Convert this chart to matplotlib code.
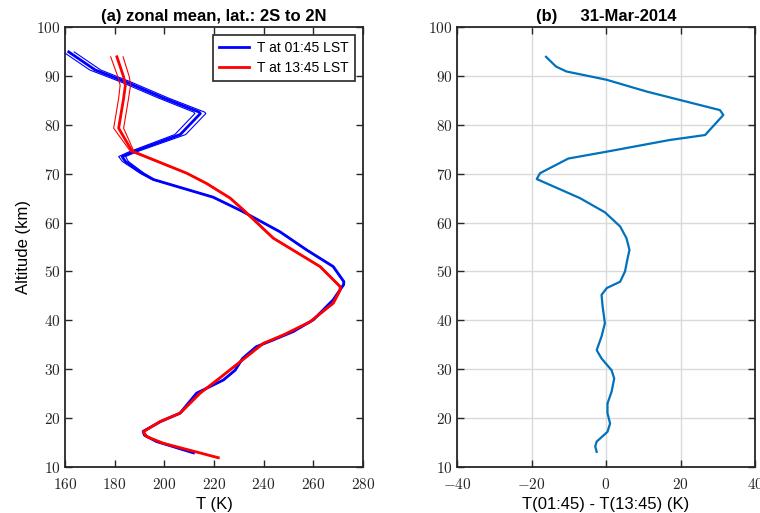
import matplotlib
matplotlib.use("Agg")
import matplotlib.pyplot as plt
import numpy as np
from matplotlib.ticker import FuncFormatter, MultipleLocator

plt.rcParams['font.family'] = ['Liberation Sans', 'DejaVu Sans']
plt.rcParams['mathtext.fontset'] = 'cm'

# ---- data: night (01:45 LST) profile ----
alt_night = [94.9, 91.2, 88.8, 85.5, 82.6, 82.3, 78.0, 74.4, 73.5, 72.5, 70.1, 68.8,
             65.2, 62.4, 58.1, 54.4, 51.0, 47.9, 47.3, 44.2, 40.1, 37.7, 36.0, 34.6,
             32.2, 29.8, 27.8, 25.1, 21.0, 19.3, 17.3, 16.5, 15.2, 12.9]
T_night = [161.5, 172.2, 184.3, 199.5, 214.0, 214.5, 206.4, 187.0, 183.0, 184.3, 191.0, 195.6,
           219.6, 231.0, 246.6, 257.3, 268.0, 272.3, 272.2, 268.0, 260.0, 251.9, 243.9, 237.0,
           231.5, 228.5, 223.8, 213.0, 206.3, 198.5, 191.5, 192.0, 196.9, 211.7]
err_night = [2.2, 2.2, 2.0, 2.0, 2.2, 2.2, 2.2, 1.5, 1.4, 1.2, 0.8, 0.5,
             0.3, 0.2, 0.2, 0.2, 0.2, 0.2, 0.2, 0.2, 0.2, 0.2, 0.2, 0.2,
             0.2, 0.2, 0.2, 0.2, 0.2, 0.2, 0.3, 0.3, 0.4, 0.5]

# ---- data: day (13:45 LST) profile ----
alt_day = [93.9, 89.8, 88.1, 85.4, 79.3, 74.6, 70.1, 68.0, 65.0, 62.6, 56.8, 51.0,
           46.9, 46.2, 43.5, 39.7, 37.0, 35.3, 31.5, 28.0, 25.1, 21.0, 19.3, 17.2,
           16.2, 14.85, 11.9]
T_day = [180.9, 183.6, 184.3, 183.6, 181.6, 187.0, 209.0, 217.0, 226.5, 231.8, 243.9, 262.7,
         270.8, 270.8, 268.0, 258.7, 247.9, 239.9, 230.5, 221.8, 214.4, 206.3, 198.3, 191.5,
         192.9, 199.6, 221.7]
err_day = [2.5, 2.3, 2.1, 2.0, 2.0, 0.7, 0.3, 0.3, 0.3, 0.3, 0.3, 0.3,
           0.3, 0.3, 0.3, 0.3, 0.3, 0.3, 0.3, 0.3, 0.3, 0.3, 0.3, 0.3,
           0.3, 0.3, 0.3]

# ---- data: difference night - day ----
alt_diff = [93.9, 91.9, 90.9, 89.2, 86.8, 83.0, 82.0, 77.9, 76.9, 74.5, 73.1, 70.1, 68.9,
            65.0, 62.1, 59.2, 56.8, 54.4, 52.3, 50.0, 47.9, 46.6, 45.2, 42.8, 39.4,
            36.7, 33.9, 32.2, 29.8, 28.1, 25.4, 23.0, 21.0, 18.9, 17.2, 15.2, 14.2, 13.1]
T_diff = [-16.1, -13.4, -10.6, 0.2, 10.9, 30.6, 31.5, 26.6, 17.2, 0.2, -10.1, -17.7, -18.6,
          -7.0, -0.3, 3.8, 5.5, 6.3, 5.7, 5.1, 3.8, 0.2, -1.2, -0.9, -0.3,
          -1.2, -2.5, -1.2, 1.5, 2.2, 1.5, 0.4, 0.4, 1.1, 0.4, -2.5, -2.9, -2.5]

fig = plt.figure(figsize=(7.6, 5.13), dpi=100)
ax1 = fig.add_axes([65/760, 46/513, 298/760, 440/513])
ax2 = fig.add_axes([457/760, 46/513, 298/760, 440/513])

fmt = FuncFormatter(lambda v, p: r'$%d$' % round(v) if v >= 0 else r'$-%d$' % round(-v))

# left panel
Tn = np.array(T_night); en = np.array(err_night)
Td = np.array(T_day); ed = np.array(err_day)
ax1.plot(Tn, alt_night, color='#0000ff', lw=2.0, label='T at 01:45 LST', zorder=3)
ax1.plot(Tn - en, alt_night, color='#0000ff', lw=0.8, zorder=3)
ax1.plot(Tn + en, alt_night, color='#0000ff', lw=0.8, zorder=3)
ax1.plot(Td, alt_day, color='#ff0000', lw=2.0, label='T at 13:45 LST', zorder=4)
ax1.plot(Td - ed, alt_day, color='#ff0000', lw=0.8, zorder=4)
ax1.plot(Td + ed, alt_day, color='#ff0000', lw=0.8, zorder=4)
ax1.set_xlim(160, 280)
ax1.set_ylim(10, 100)
ax1.xaxis.set_major_locator(MultipleLocator(20))
ax1.yaxis.set_major_locator(MultipleLocator(10))
ax1.set_xlabel('T (K)', fontsize=12, labelpad=4)
ax1.set_ylabel('Altitude (km)', fontsize=12, labelpad=4)
ax1.set_title('(a) zonal mean, lat.: 2S to 2N', fontsize=12, fontweight='bold', pad=4)
leg = ax1.legend(loc='upper right', fontsize=10, frameon=True, fancybox=False,
                 edgecolor='#262626', framealpha=1, handlelength=2.2,
                 borderaxespad=0.6, borderpad=0.4, labelspacing=0.45, handletextpad=0.6)
leg.get_frame().set_linewidth(1.2)

# right panel
ax2.plot(T_diff, alt_diff, color='#0072BD', lw=1.6, zorder=3)
ax2.set_xlim(-40, 40)
ax2.set_ylim(10, 100)
ax2.xaxis.set_major_locator(MultipleLocator(20))
ax2.yaxis.set_major_locator(MultipleLocator(10))
ax2.grid(True, color='#d9d9d9', lw=1.0)
ax2.set_axisbelow(True)
ax2.set_xlabel('T(01:45) - T(13:45) (K)', fontsize=12, labelpad=4)
ax2.set_title('(b)     31-Mar-2014', fontsize=12, fontweight='bold', pad=4)

for ax in (ax1, ax2):
    ax.xaxis.set_major_formatter(fmt)
    ax.yaxis.set_major_formatter(fmt)
    ax.tick_params(direction='in', length=5, width=1.0, top=True, right=True,
                   labelsize=11, colors='#262626', pad=3)
    ax.tick_params(axis='x', pad=7)
    for s in ax.spines.values():
        s.set_linewidth(1.3)
        s.set_color('#262626')

fig.savefig('out.png', dpi=100)
